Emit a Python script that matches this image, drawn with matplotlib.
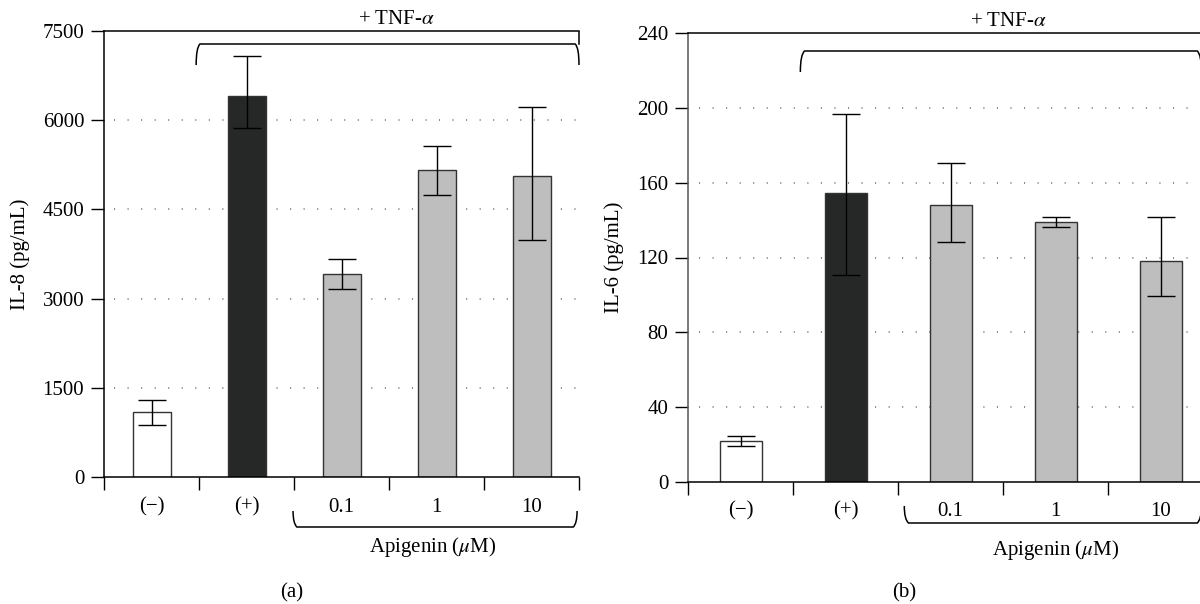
import matplotlib
matplotlib.use("Agg")
import matplotlib.pyplot as plt
from matplotlib.path import Path
from matplotlib.patches import PathPatch
from matplotlib.transforms import blended_transform_factory

plt.rcParams['font.family'] = ['Liberation Serif', 'DejaVu Serif']
plt.rcParams['mathtext.fontset'] = 'stix'

# ---------------- data ----------------
categories = ["(\u2212)", "(+)", "0.1", "1", "10"]
bar_colors = ["#ffffff", "#262828", "#bebebe", "#bebebe", "#bebebe"]

il8_mean = [1096, 6413, 3413, 5168, 5055]
il8_err_low = [225, 543, 255, 425, 1076]
il8_err_high = [196, 662, 255, 396, 1171]
il8_ticks = [0, 1500, 3000, 4500, 6000, 7500]

il6_mean = [22.0, 154.3, 148.0, 139.1, 118.0]
il6_err_low = [2.7, 43.8, 19.6, 3.0, 18.7]
il6_err_high = [2.8, 42.5, 22.5, 2.5, 23.6]
il6_ticks = [0, 40, 80, 120, 160, 200, 240]

W, H = 1200, 604
FS = 15
fig = plt.figure(figsize=(W / 100, H / 100), dpi=100)


def fy(px):
    return 1 - px / H


def bracket(ax, x0, x1, y_line, y_end, trans, r=0.04, rp=0.006, color='black'):
    sgn = 1 if y_end < y_line else -1
    verts = [(x0, y_end), (x0, y_line - sgn * rp), (x0 + r, y_line),
             (x1 - r, y_line), (x1, y_line - sgn * rp), (x1, y_end)]
    codes = [Path.MOVETO, Path.CURVE3, Path.CURVE3, Path.LINETO, Path.CURVE3, Path.CURVE3]
    p = PathPatch(Path(verts, codes), fill=False, lw=1.1, color=color,
                  transform=trans, clip_on=False)
    ax.add_patch(p)


def panel(rect, means, elow, ehigh, ticks, ylabel, ylabel_x, label_y_px,
          top_br, bot_br, tnf_xy, apig_xy, panel_label, spine_left_color,
          right_stub):
    ax = fig.add_axes(rect)
    x = [i + 0.5 for i in range(len(categories))]
    ymax = ticks[-1]
    for t in ticks[1:-1]:
        ax.plot([0.1, 5], [t, t], color='#808080', lw=1.3,
                linestyle=(0, (0.6, 6.9)), zorder=0.5, clip_on=False)
    ax.bar(x, means, width=0.4, color=bar_colors, edgecolor='#333333',
           linewidth=1.0, zorder=2)
    ax.errorbar(x, means, yerr=[elow, ehigh], fmt='none', ecolor='black',
                elinewidth=1.0, capsize=10, capthick=1.0, zorder=3)
    ax.set_xlim(0, 5)
    ax.set_ylim(0, ymax)
    ax.set_yticks(ticks)
    ax.set_xticks(range(6))
    ax.set_xticklabels([])
    ax.tick_params(axis='y', direction='out', length=9.3, width=1.0,
                   pad=5, labelsize=FS)
    ax.tick_params(axis='x', direction='out', length=9.2, width=1.0)
    ax.spines['right'].set_visible(False)
    ax.spines['left'].set_color(spine_left_color)
    for s in ['top', 'bottom', 'left']:
        ax.spines[s].set_linewidth(1.1)

    tr = blended_transform_factory(ax.transData, fig.transFigure)
    for xi, c in zip(x, categories):
        ax.text(xi, fy(label_y_px), c, transform=tr, ha='center', va='center',
                fontsize=FS)
    bracket(ax, top_br[0], top_br[1], fy(top_br[2]), fy(top_br[3]), tr)
    if right_stub:
        ax.plot([5, 5], [fy(32), fy(top_br[2])], color='black', lw=1.1,
                transform=tr, clip_on=False)
    bracket(ax, bot_br[0], bot_br[1], fy(bot_br[2]), fy(bot_br[3]), tr)

    fig.text(tnf_xy[0] / W, fy(tnf_xy[1]), "+ TNF-$\\alpha$", ha='center',
             va='center', fontsize=FS)
    fig.text(apig_xy[0] / W, fy(apig_xy[1]), "Apigenin ($\\mu$M)", ha='center',
             va='center', fontsize=FS)
    fig.text(ylabel_x / W, (rect[1] + rect[3] / 2), ylabel, rotation=90,
             ha='center', va='center', fontsize=FS)
    fig.text(panel_label[0] / W, fy(panel_label[1]), panel_label[2],
             ha='center', va='center', fontsize=FS)
    return ax


panel([104 / W, fy(477), 475 / W, (477 - 31) / H], il8_mean, il8_err_low,
      il8_err_high, il8_ticks, "IL-8 (pg/mL)", 20, 507,
      (0.97, 5.0, 44, 65), (1.99, 4.98, 527, 511), (396, 20), (433, 547),
      (292, 593, "(a)"), 'black', True)

panel([688 / W, fy(482), 525 / W, (482 - 33) / H], il6_mean, il6_err_low,
      il6_err_high, il6_ticks, "IL-6 (pg/mL)", 614, 511,
      (1.07, 4.89, 51, 72), (2.06, 4.89, 523, 506), (1008, 21), (1056, 550),
      (904, 593, "(b)"), '#555555', False)

fig.savefig("out.png", dpi=100)
